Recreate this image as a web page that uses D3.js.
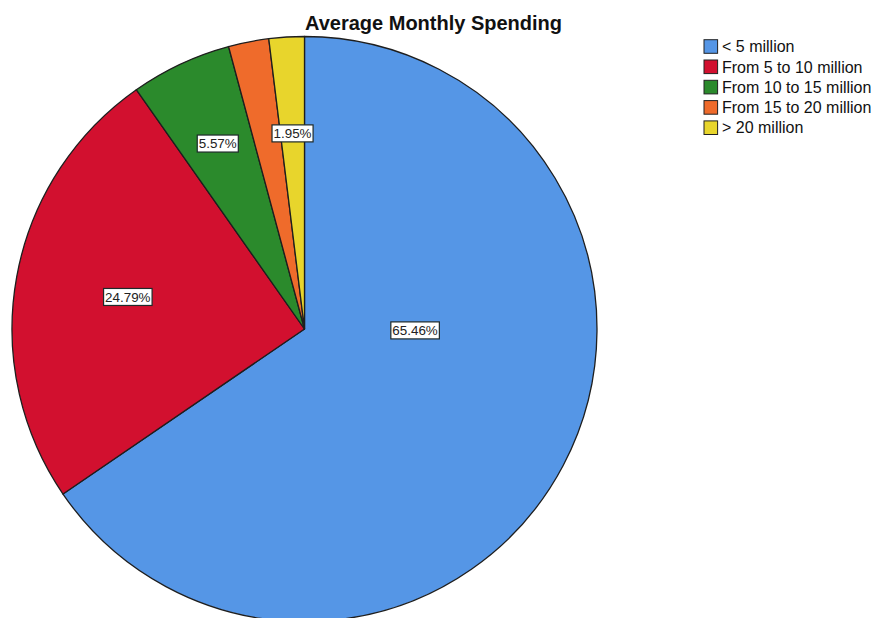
<!DOCTYPE html>
<html>
<head>
<meta charset="utf-8">
<script src="https://cdn.jsdelivr.net/npm/d3@7"></script>
<style>
  html, body { margin: 0; padding: 0; background: #fff; }
  svg { display: block; font-family: "Liberation Sans", Arial, sans-serif; }
</style>
</head>
<body>
<svg id="chart" width="879" height="618"></svg>
<script>
// Spending brackets and their share of respondents (%)
const categories = ["< 5 million", "From 5 to 10 million", "From 10 to 15 million", "From 15 to 20 million", "> 20 million"];
const shares = [65.46, 24.79, 5.57, 2.23, 1.95];
const showLabel = [true, true, true, false, true];
const colors = ["#5596e6", "#d2102f", "#2b8a2c", "#ef6b2b", "#e8d52c"];

// Label placement inside each slice: fraction along the slice's sweep and fraction of radius
const labelSweep = [0.385, 0.5, 0.5, 0.5, 0.5];
const labelRadius = [0.378, 0.614, 0.70, 0.67, 0.67];

const svg = d3.select("#chart");
const W = 879, H = 618;
const cx = 304.5, cy = 329, R = 292.5;

svg.append("text")
  .attr("x", 433.5).attr("y", 30)
  .attr("text-anchor", "middle")
  .attr("font-weight", "bold")
  .attr("font-size", 20)
  .attr("fill", "#111")
  .text("Average Monthly Spending");

const pie = d3.pie().sort(null).value(d => d.v).startAngle(0).endAngle(2 * Math.PI);
const arcs = pie(categories.map((c, i) => ({ c, v: shares[i], i })));
const arc = d3.arc().innerRadius(0).outerRadius(R);

const g = svg.append("g").attr("transform", `translate(${cx},${cy})`);

g.selectAll("path.slice")
  .data(arcs)
  .join("path")
  .attr("class", "slice")
  .attr("d", arc)
  .attr("fill", d => colors[d.data.i])
  .attr("stroke", "#1e1e1e")
  .attr("stroke-width", 1.3)
  .attr("stroke-linejoin", "round");

// Value labels in white boxes
const lab = g.selectAll("g.lab")
  .data(arcs.filter(d => showLabel[d.data.i]))
  .join("g")
  .attr("class", "lab")
  .attr("transform", d => {
    const i = d.data.i;
    const a = d.startAngle + (d.endAngle - d.startAngle) * labelSweep[i];
    const r = R * labelRadius[i];
    return `translate(${r * Math.sin(a)},${-r * Math.cos(a)})`;
  });

lab.append("text")
  .attr("text-anchor", "middle")
  .attr("dy", "0.36em")
  .attr("font-size", 13.4)
  .attr("fill", "#222")
  .text(d => d.data.v.toFixed(2) + "%");

lab.each(function() {
  const sel = d3.select(this);
  const bb = sel.select("text").node().getBBox();
  sel.insert("rect", "text")
    .attr("x", bb.x - 1.5)
    .attr("y", -8.5)
    .attr("width", bb.width + 3)
    .attr("height", 17)
    .attr("fill", "#fff")
    .attr("stroke", "#1e2a2a")
    .attr("stroke-width", 1.2);
});

// Legend
const legend = svg.append("g").attr("transform", "translate(704,46.5)");
const rows = legend.selectAll("g")
  .data(categories)
  .join("g")
  .attr("transform", (d, i) => `translate(0,${i * 20.3})`);

rows.append("rect")
  .attr("x", 0).attr("y", -6.8)
  .attr("width", 13.6).attr("height", 13.6)
  .attr("fill", (d, i) => colors[i])
  .attr("stroke", "#222")
  .attr("stroke-width", 1);

rows.append("text")
  .attr("x", 18).attr("dy", "0.36em")
  .attr("font-size", 16)
  .attr("fill", "#111")
  .text(d => d);
</script>
</body>
</html>
